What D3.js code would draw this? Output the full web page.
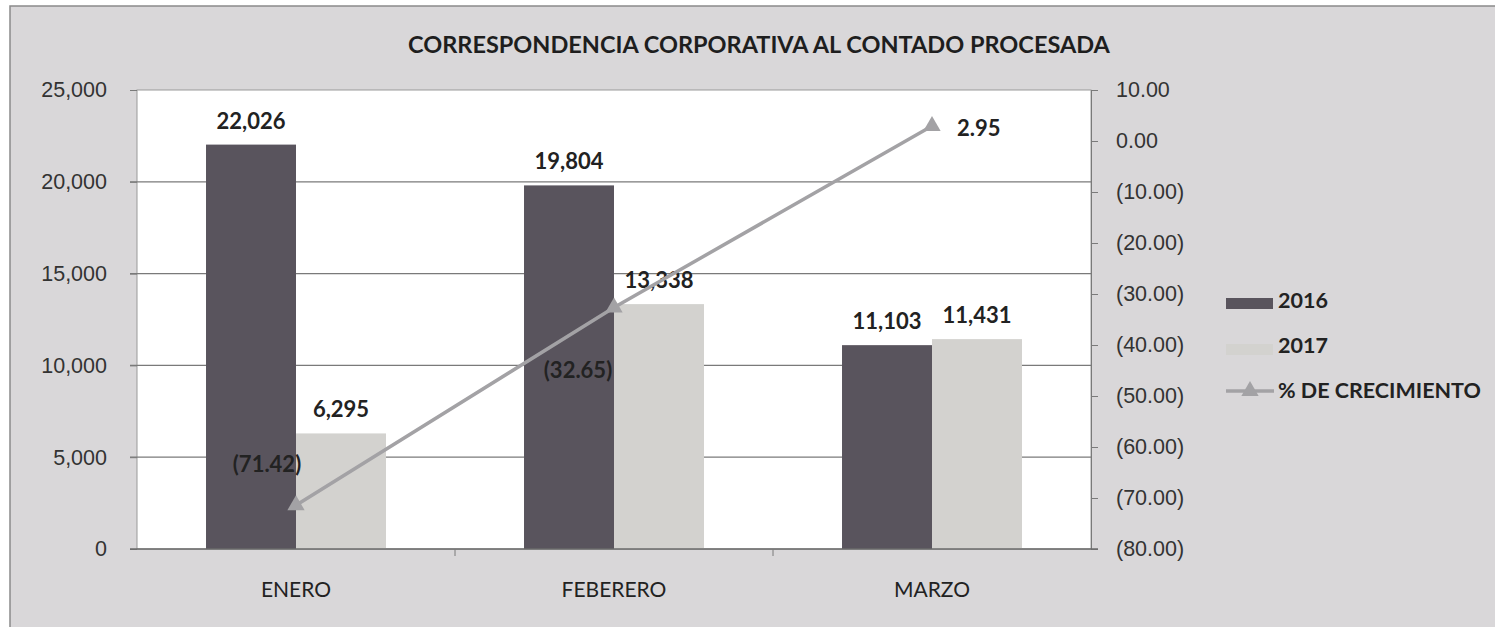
<!DOCTYPE html>
<html>
<head>
<meta charset="utf-8">
<script src="https://cdn.jsdelivr.net/npm/d3@7"></script>
<style>
  html, body { margin: 0; padding: 0; background: #fff; }
  svg { display: block; font-family: Lato, "Open Sans", sans-serif; }
</style>
</head>
<body>
<svg id="chart" width="1495" height="627"></svg>
<script>
(function() {
  // chart data
  const months = ["ENERO", "FEBERERO", "MARZO"];
  const years = ["2016", "2017"];
  const values2016 = [22026, 19804, 11103];
  const values2017 = [6295, 13338, 11431];
  const growth = [-71.42, -32.65, 2.95];
  const leftTicks = [0, 5000, 10000, 15000, 20000, 25000];
  const rightTicks = [10, 0, -10, -20, -30, -40, -50, -60, -70, -80];

  // where each growth label sits relative to its marker
  const growthLabelPos = [
    { dx: -29, dy: -33, anchor: "middle" },
    { dx: -36, dy: 70, anchor: "middle" },
    { dx: 25, dy: 10, anchor: "start" }
  ];

  const colors = { "2016": "#59545d", "2017": "#d3d2cf" };
  const lineColor = "#a3a2a5";

  const svg = d3.select("#chart");
  const margin = { left: 137, right: 1091, top: 90, bottom: 549 };

  // frame / background
  svg.append("rect")
    .attr("x", 10).attr("y", 6)
    .attr("width", 1495).attr("height", 627)
    .attr("fill", "#d9d7d9")
    .attr("stroke", "#8a8a8a")
    .attr("stroke-width", 1.5);

  // plot area
  svg.append("rect")
    .attr("x", margin.left).attr("y", margin.top)
    .attr("width", margin.right - margin.left)
    .attr("height", margin.bottom - margin.top)
    .attr("fill", "#fff")
    .attr("stroke", "#9a9a9a");

  const x = d3.scaleBand().domain(months).range([margin.left, margin.right]);
  const x1 = d3.scaleBand().domain(years).range([0, x.bandwidth()]).paddingOuter(0.767);
  const y = d3.scaleLinear().domain([0, 25000]).range([margin.bottom, margin.top]);
  const y2 = d3.scaleLinear().domain([-80, 10]).range([margin.bottom, margin.top]);

  // gridlines
  svg.append("g")
    .selectAll("line")
    .data(leftTicks.filter(d => d > 0 && d < 25000))
    .enter().append("line")
    .attr("x1", margin.left - 7).attr("x2", margin.right)
    .attr("y1", d => y(d)).attr("y2", d => y(d))
    .attr("stroke", "#7a7a7a").attr("stroke-width", 1.2);

  // left axis
  const fmtThousands = d3.format(",");
  const leftAxis = svg.append("g")
    .attr("transform", `translate(${margin.left},0)`)
    .call(d3.axisLeft(y).tickValues(leftTicks).tickSize(7).tickPadding(23).tickFormat(fmtThousands));
  leftAxis.select(".domain").remove();
  leftAxis.selectAll("line").attr("stroke", "#7a7a7a");
  leftAxis.selectAll("text").attr("font-size", 21.5).attr("fill", "#333");

  // right axis
  const fmtPct = v => v < 0 ? "(" + d3.format(".2f")(-v) + ")" : d3.format(".2f")(v);
  const rightAxis = svg.append("g")
    .attr("transform", `translate(${margin.right},0)`)
    .call(d3.axisRight(y2).tickValues(rightTicks).tickSize(7).tickPadding(18).tickFormat(fmtPct));
  rightAxis.select(".domain").attr("stroke", "#7a7a7a");
  rightAxis.selectAll("line").attr("stroke", "#7a7a7a");
  rightAxis.selectAll("text").attr("font-size", 21.5).attr("fill", "#333");

  // bars
  const rows = months.map((m, i) => ({ month: m, "2016": values2016[i], "2017": values2017[i] }));
  const groups = svg.append("g").selectAll("g")
    .data(rows).enter().append("g")
    .attr("transform", d => `translate(${x(d.month)},0)`);

  groups.selectAll("rect")
    .data(d => years.map(k => ({ key: k, value: d[k] })))
    .enter().append("rect")
    .attr("x", d => x1(d.key))
    .attr("y", d => y(d.value))
    .attr("width", x1.bandwidth())
    .attr("height", d => y(0) - y(d.value))
    .attr("fill", d => colors[d.key]);

  groups.selectAll("text")
    .data(d => years.map(k => ({ key: k, value: d[k] })))
    .enter().append("text")
    .attr("x", d => x1(d.key) + x1.bandwidth() / 2)
    .attr("y", d => y(d.value) - 16)
    .attr("text-anchor", "middle")
    .attr("font-size", 22).attr("font-weight", "bold").attr("fill", "#222")
    .text(d => fmtThousands(d.value));

  // bottom axis line
  svg.append("line")
    .attr("x1", margin.left - 7).attr("x2", margin.right + 7)
    .attr("y1", margin.bottom).attr("y2", margin.bottom)
    .attr("stroke", "#6a6a6a").attr("stroke-width", 1.5);
  svg.append("g").selectAll("line")
    .data(months.slice(1)).enter().append("line")
    .attr("x1", d => x(d)).attr("x2", d => x(d))
    .attr("y1", margin.bottom).attr("y2", margin.bottom + 7)
    .attr("stroke", "#7a7a7a");

  svg.append("g").selectAll("text")
    .data(months).enter().append("text")
    .attr("x", d => x(d) + x.bandwidth() / 2)
    .attr("y", 597)
    .attr("text-anchor", "middle")
    .attr("font-size", 21).attr("fill", "#222")
    .text(d => d);

  // growth line
  const pts = months.map((m, i) => ({ month: m, value: growth[i], i: i }));
  const cx = d => x(d.month) + x.bandwidth() / 2;
  svg.append("path")
    .datum(pts)
    .attr("d", d3.line().x(cx).y(d => y2(d.value)))
    .attr("fill", "none")
    .attr("stroke", lineColor)
    .attr("stroke-width", 3.5);

  const tri = d3.symbol().type(d3.symbolTriangle).size(130);
  svg.append("g").selectAll("path")
    .data(pts).enter().append("path")
    .attr("d", tri)
    .attr("transform", d => `translate(${cx(d)},${y2(d.value)})`)
    .attr("fill", lineColor);

  svg.append("g").selectAll("text")
    .data(pts).enter().append("text")
    .attr("x", d => cx(d) + growthLabelPos[d.i].dx)
    .attr("y", d => y2(d.value) + growthLabelPos[d.i].dy)
    .attr("text-anchor", d => growthLabelPos[d.i].anchor)
    .attr("font-size", 22).attr("font-weight", "bold").attr("fill", "#222")
    .text(d => fmtPct(d.value));

  // title
  svg.append("text")
    .attr("x", 759).attr("y", 53)
    .attr("text-anchor", "middle")
    .attr("font-size", 23.5).attr("font-weight", "bold").attr("fill", "#1e1e1e")
    .text("CORRESPONDENCIA CORPORATIVA AL CONTADO PROCESADA");

  // legend
  const legend = svg.append("g").attr("transform", "translate(1226,0)");
  legend.append("rect")
    .attr("x", 0).attr("y", 298).attr("width", 47).attr("height", 11)
    .attr("fill", colors["2016"]);
  legend.append("rect")
    .attr("x", 0).attr("y", 344).attr("width", 47).attr("height", 11)
    .attr("fill", colors["2017"]);
  legend.append("line")
    .attr("x1", 0).attr("x2", 48).attr("y1", 391).attr("y2", 391)
    .attr("stroke", lineColor).attr("stroke-width", 3.5);
  legend.append("path")
    .attr("d", tri)
    .attr("transform", "translate(24,391)")
    .attr("fill", lineColor);
  legend.selectAll("text.lg")
    .data(["2016", "2017", "% DE CRECIMIENTO"])
    .enter().append("text")
    .attr("class", "lg")
    .attr("x", 52)
    .attr("y", (d, i) => 308 + i * 45)
    .attr("font-size", 21.5).attr("font-weight", "bold").attr("fill", "#222")
    .text(d => d);
})();
</script>
</body>
</html>
